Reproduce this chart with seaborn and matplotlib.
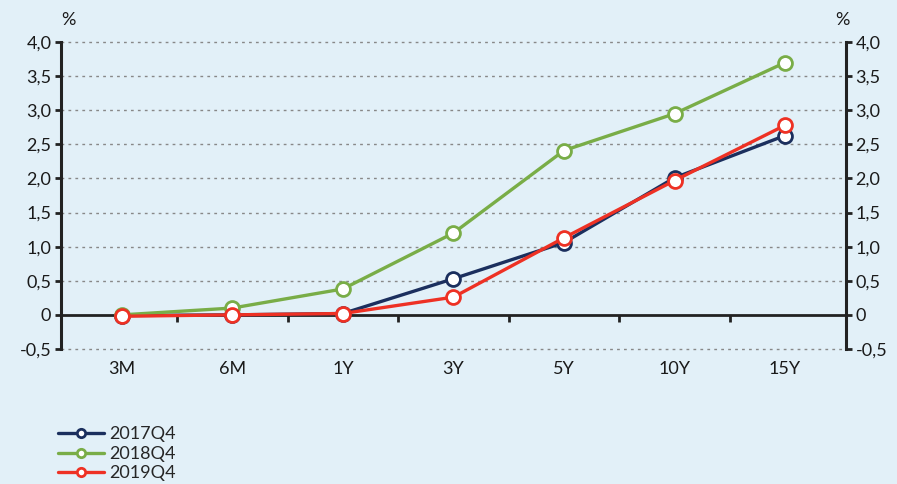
import numpy as np
import pandas as pd
import matplotlib.pyplot as plt
import seaborn as sns

# dados da curva de juros
maturities = ['3M', '6M', '1Y', '3Y', '5Y', '10Y', '15Y']
y2017 = [-0.01, 0.00, 0.02, 0.53, 1.06, 2.01, 2.63]
y2018 = [0.00, 0.10, 0.38, 1.20, 2.41, 2.95, 3.70]
y2019 = [-0.02, 0.00, 0.02, 0.26, 1.13, 1.97, 2.78]
series_names = ['2017Q4', '2018Q4', '2019Q4']
series_colors = ['#1b2f5e', '#79ad47', '#ee3124']

ytick_values = [-0.5, 0, 0.5, 1.0, 1.5, 2.0, 2.5, 3.0, 3.5, 4.0]
ytick_labels = ['-0,5', '0', '0,5', '1,0', '1,5', '2,0', '2,5', '3,0', '3,5', '4,0']

sns.set_style('white')
plt.rcParams['font.family'] = ['Lato', 'DejaVu Sans']
bg = '#e2f0f8'
txt = '#1a1a1a'
fs = 13

fig = plt.figure(figsize=(8.97, 4.84), dpi=100, facecolor=bg)
ax = fig.add_axes([0.068, 0.279, 0.875, 0.634])
ax.set_facecolor(bg)

for name, vals, c in zip(series_names, [y2017, y2018, y2019], series_colors):
    sns.lineplot(x=maturities, y=vals, ax=ax, color=c, lw=2.4, sort=False,
                 marker='o', markersize=10, markerfacecolor='white',
                 markeredgecolor=c, markeredgewidth=2, label=name, zorder=3)

ax.set_xlim(-0.55, 6.55)
ax.set_ylim(-0.5, 4.0)
ax.set_yticks(ytick_values)
ax.set_yticklabels(ytick_labels)
ax.set_xlabel('')
ax.set_ylabel('')

# grade pontilhada, linha do zero solida
for v in ytick_values:
    if v != 0:
        ax.axhline(v, color='#888888', lw=1, ls=(0, (2, 3)), zorder=1, clip_on=False)
ax.axhline(0, color='#222222', lw=2, zorder=2)

for s in ['top', 'bottom']:
    ax.spines[s].set_visible(False)
for s in ['left', 'right']:
    ax.spines[s].set_color('#222222')
    ax.spines[s].set_linewidth(2.2)

ax.tick_params(axis='y', direction='out', length=4, width=2, color='#222222',
               labelsize=fs, labelcolor=txt, pad=3)
ax.tick_params(axis='x', length=0, labelsize=fs, labelcolor=txt, pad=9)

# ticks entre categorias na linha do zero
sec = ax.secondary_xaxis(0.5 / 4.5)
sec.set_xticks(np.arange(len(maturities) - 1) + 0.5)
sec.set_xticklabels([])
sec.spines['bottom'].set_visible(False)
sec.tick_params(direction='out', length=5, width=2, color='#222222')

ax2 = ax.twinx()
ax2.set_ylim(ax.get_ylim())
ax2.set_yticks(ytick_values)
ax2.set_yticklabels(ytick_labels)
for s in ['top', 'bottom', 'left', 'right']:
    ax2.spines[s].set_visible(False)
ax2.tick_params(axis='y', direction='out', length=4, width=2, color='#222222',
                labelsize=fs, labelcolor=txt, pad=3)

fig.text(0.076, 0.958, '%', fontsize=fs, color=txt, ha='center', va='center')
fig.text(0.939, 0.958, '%', fontsize=fs, color=txt, ha='center', va='center')

handles, labels = ax.get_legend_handles_labels()
ax.get_legend().remove()
fig.legend(handles, labels, loc='upper left', bbox_to_anchor=(0.055, 0.138),
           frameon=False, fontsize=fs, handlelength=2.5, handletextpad=0.3,
           labelspacing=0.2, borderpad=0, markerscale=0.6)

fig.savefig('out.png', dpi=100, facecolor=bg)
